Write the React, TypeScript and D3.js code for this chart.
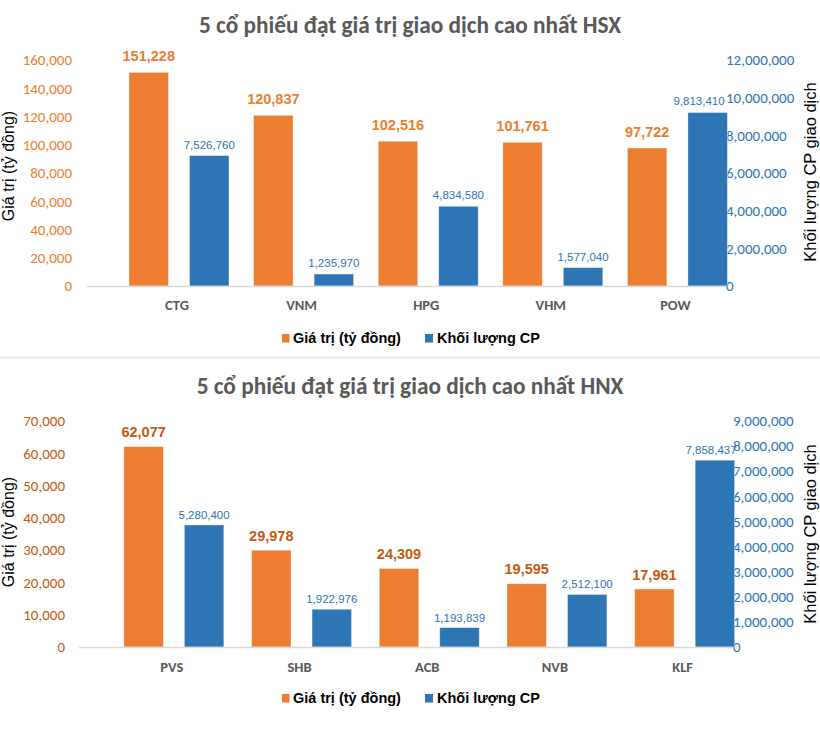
import React from "react";
import * as d3 from "d3";

// ---------- DATA ----------
const hsxTitle = "5 cổ phiếu đạt giá trị giao dịch cao nhất HSX";
const hsxCategories = ["CTG", "VNM", "HPG", "VHM", "POW"];
const hsxValues = [151228, 120837, 102516, 101761, 97722];
const hsxVolumes = [7526760, 1235970, 4834580, 1577040, 9813410];
const hsxLeftTicks = [0, 20000, 40000, 60000, 80000, 100000, 120000, 140000, 160000];
const hsxRightTicks = [0, 2000000, 4000000, 6000000, 8000000, 10000000, 12000000];

const hnxTitle = "5 cổ phiếu đạt giá trị giao dịch cao nhất HNX";
const hnxCategories = ["PVS", "SHB", "ACB", "NVB", "KLF"];
const hnxValues = [62077, 29978, 24309, 19595, 17961];
const hnxVolumes = [5280400, 1922976, 1193839, 2512100, 7858437];
const hnxLeftTicks = [0, 10000, 20000, 30000, 40000, 50000, 60000, 70000];
const hnxRightTicks = [0, 1000000, 2000000, 3000000, 4000000, 5000000, 6000000, 7000000, 8000000, 9000000];

const seriesNames = ["Giá trị (tỷ đồng)", "Khối lượng CP"];
const leftAxisTitle = "Giá trị (tỷ đồng)";
const rightAxisTitle = "Khối lượng CP giao dịch";

// ---------- STYLE ----------
const ORANGE = "#ED7D31";
const BLUE = "#2E75B6";
const GRAY = "#595959";
const FONT = "Carlito, Lato, 'Liberation Sans', sans-serif";
const ARIAL = "'Liberation Sans', Arial, sans-serif";
const NARROW = "'Liberation Sans Narrow', 'Arial Narrow', 'Liberation Sans', sans-serif";

type Layout = {
  titleY: number;
  yTop: number;
  yBase: number;
  axisX0: number;
  axisX1: number;
  bandX0: number;
  bandX1: number;
  leftTickX: number;
  rightTickX: number;
  catY: number;
  legendY: number;
  leftTitleY: number;
  rightTitleY: number;
  leftTickColor: string;
  valueLabelColor: string;
  blueFloor: number;
  valueGap: number;
  volGap: number;
  volLabelMaxX: number;
};

const hsxLayout: Layout = {
  titleY: 33,
  yTop: 60,
  yBase: 286,
  axisX0: 87,
  axisX1: 726,
  bandX0: 116.7,
  bandX1: 739.7,
  leftTickX: 72,
  rightTickX: 726,
  catY: 310,
  legendY: 343,
  leftTitleY: 166,
  rightTitleY: 172,
  leftTickColor: ORANGE,
  valueLabelColor: ORANGE,
  blueFloor: 600000,
  valueGap: 11,
  volGap: 7,
  volLabelMaxX: 699,
};

const hnxLayout: Layout = {
  titleY: 394,
  yTop: 421,
  yBase: 647,
  axisX0: 79,
  axisX1: 733,
  bandX0: 110,
  bandX1: 748.5,
  leftTickX: 65,
  rightTickX: 733,
  catY: 672,
  legendY: 703,
  leftTitleY: 532,
  rightTitleY: 534,
  leftTickColor: "#C55A11",
  valueLabelColor: "#C55A11",
  blueFloor: 420000,
  valueGap: 9.5,
  volGap: 6,
  volLabelMaxX: 711,
};

const fmt = d3.format(",");

function Panel(props: {
  title: string;
  categories: string[];
  values: number[];
  volumes: number[];
  leftTicks: number[];
  rightTicks: number[];
  L: Layout;
}) {
  const { title, categories, values, volumes, leftTicks, rightTicks, L } = props;
  const x = d3.scaleBand<string>().domain(categories).range([L.bandX0, L.bandX1]).padding(0);
  const sub = d3.scaleBand<string>().domain(["v", "q"]).range([-50, 50]).paddingInner(0.347).paddingOuter(0);
  const yL = d3.scaleLinear().domain([0, d3.max(leftTicks) as number]).range([L.yBase, L.yTop]);
  const rMax = d3.max(rightTicks) as number;
  const yR = d3.scaleLinear().domain([0, rMax]).range([L.yBase, L.yTop]);
  const yBar = d3.scaleLinear().domain([L.blueFloor, L.blueFloor + rMax]).range([L.yBase, L.yTop]);
  const c = (cat: string) => (x(cat) as number) + x.bandwidth() / 2;
  const bw = sub.bandwidth();

  return (
    <g>
      <text x={410} y={L.titleY} textAnchor="middle" fontFamily={FONT} fontWeight="bold" fontSize={23.3} fill={GRAY}>
        {title}
      </text>
      {/* left ticks */}
      {leftTicks.map((t) => (
        <text key={"l" + t} x={L.leftTickX} y={yL(t)} dy="0.35em" textAnchor="end" fontFamily={FONT} fontSize={15} fill={L.leftTickColor}>
          {fmt(t)}
        </text>
      ))}
      {/* right ticks */}
      {rightTicks.map((t) => (
        <text key={"r" + t} x={L.rightTickX} y={yR(t)} dy="0.35em" textAnchor="start" fontFamily={FONT} fontSize={15} fill={BLUE}>
          {fmt(t)}
        </text>
      ))}
      {/* bars */}
      {categories.map((cat, i) => {
        const cx = c(cat);
        const ox = cx + (sub("v") as number);
        const bx = cx + (sub("q") as number);
        const oy = yL(values[i]);
        const by = yBar(volumes[i]);
        return (
          <g key={cat}>
            <rect x={ox} y={oy} width={bw} height={L.yBase - oy} fill={ORANGE} stroke="#fff" strokeOpacity={0.5} strokeWidth={0.8} />
            <rect x={bx} y={by} width={bw} height={L.yBase - by} fill={BLUE} stroke="#fff" strokeOpacity={0.5} strokeWidth={0.8} />
            <text x={ox + bw / 2} y={oy - L.valueGap} textAnchor="middle" fontFamily={NARROW} fontWeight="bold" fontSize={14.5} fill={L.valueLabelColor}>
              {fmt(values[i])}
            </text>
            <text x={Math.min(bx + bw / 2, L.volLabelMaxX)} y={by - L.volGap} textAnchor="middle" fontFamily={NARROW} fontSize={11.5} fill={BLUE}>
              {fmt(volumes[i])}
            </text>
            <text x={cx - 2} y={L.catY} textAnchor="middle" fontFamily={FONT} fontWeight="bold" fontSize={14.5} fill={GRAY}>
              {cat}
            </text>
          </g>
        );
      })}
      {/* baseline */}
      <line x1={L.axisX0} x2={L.axisX1} y1={L.yBase + 0.5} y2={L.yBase + 0.5} stroke="#D9D9D9" strokeWidth={1.5} />
      {/* axis titles */}
      <text transform={`translate(14,${L.leftTitleY}) rotate(-90)`} textAnchor="middle" fontFamily={ARIAL} fontSize={16} fill="#000">
        {leftAxisTitle}
      </text>
      <text transform={`translate(816,${L.rightTitleY}) rotate(-90)`} textAnchor="middle" fontFamily={ARIAL} fontSize={16.5} fill="#000">
        {rightAxisTitle}
      </text>
      {/* legend */}
      <rect x={282} y={L.legendY - 9} width={7.5} height={8.5} fill={ORANGE} />
      <text x={293} y={L.legendY} fontFamily={ARIAL} fontWeight="bold" fontSize={14.5} fill="#000">
        {seriesNames[0]}
      </text>
      <rect x={425} y={L.legendY - 9} width={8} height={8.5} fill={BLUE} />
      <text x={437} y={L.legendY} fontFamily={ARIAL} fontWeight="bold" fontSize={14.5} fill="#000">
        {seriesNames[1]}
      </text>
    </g>
  );
}

export default function App() {
  return (
    <svg width={820} height={746} style={{ position: "absolute", left: 0, top: 0, background: "#fff" }}>
      <rect width={820} height={746} fill="#fff" />
      <Panel title={hsxTitle} categories={hsxCategories} values={hsxValues} volumes={hsxVolumes} leftTicks={hsxLeftTicks} rightTicks={hsxRightTicks} L={hsxLayout} />
      <line x1={0} x2={820} y1={357.5} y2={357.5} stroke="#E8E8E8" strokeWidth={2} />
      <Panel title={hnxTitle} categories={hnxCategories} values={hnxValues} volumes={hnxVolumes} leftTicks={hnxLeftTicks} rightTicks={hnxRightTicks} L={hnxLayout} />
    </svg>
  );
}
